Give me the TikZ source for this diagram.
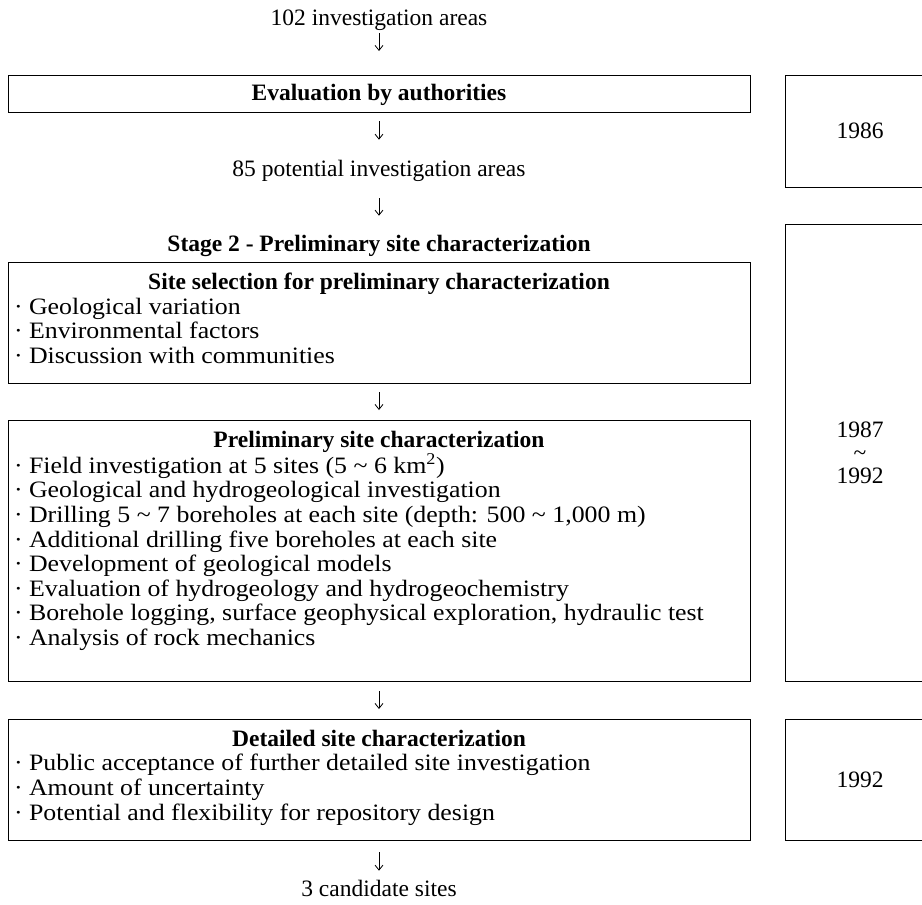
\documentclass[tikz,border=0pt]{standalone}
\usepackage{fontspec}
\setmainfont{Liberation Serif}
\newfontfamily\listfont{Liberation Serif}[FakeStretch=1.1]
\usetikzlibrary{arrows.meta}
\newcommand{\framedlist}[3]{\parbox[c][#1][t]{742pt}{\vspace*{11pt}{\centering\textbf{#2}\par}\raggedright\leftskip=6pt\relax\listfont #3\par}}
\begin{document}
\begin{tikzpicture}[x=1pt,y=-1pt,
  font=\fontsize{23.5}{24.6}\selectfont,
  frame/.style={draw, line width=0.9pt, inner sep=0pt, outer sep=0pt},
  txt/.style={inner sep=0pt, outer sep=0pt},
  openframe/.style={draw, line width=0.9pt},
  arr/.style={-{Straight Barb[length=5pt,width=8pt]}, line width=0.8pt}]
\useasboundingbox (0,0) rectangle (922,905);

% left column
\node[txt, anchor=base] (n102) at (379,25) {102 investigation areas};
\node[frame, minimum width=742pt, minimum height=37pt, text height=16pt, text depth=2pt] (eval) at (379,93.5) {\textbf{Evaluation by authorities}};
\node[txt, anchor=base] (n85) at (379,176) {85 potential investigation areas};
\node[txt, anchor=base] (stage) at (379,251) {\textbf{Stage 2 - Preliminary site characterization}};
\node[frame] (sel) at (379,322.5) {\framedlist{121pt}{Site selection for preliminary characterization}{%
  · Geological variation\\
  · Environmental factors\\
  · Discussion with communities}};
\node[frame] (pre) at (379,550.5) {\framedlist{261pt}{Preliminary site characterization}{%
  · Field investigation at 5 sites (5 \textasciitilde{} 6 km\textsuperscript{2})\\
  · Geological and hydrogeological investigation\\
  · Drilling 5 \textasciitilde{} 7 boreholes at each site (depth: 500 \textasciitilde{} 1,000 m)\\
  · Additional drilling five boreholes at each site\\
  · Development of geological models\\
  · Evaluation of hydrogeology and hydrogeochemistry\\
  · Borehole logging, surface geophysical exploration, hydraulic test\\
  · Analysis of rock mechanics}};
\node[frame] (det) at (379,779.5) {\framedlist{121pt}{Detailed site characterization}{%
  · Public acceptance of further detailed site investigation\\
  · Amount of uncertainty\\
  · Potential and flexibility for repository design}};
\node[txt, anchor=base] (n3) at (379,896) {3 candidate sites};

% right column (open at the right edge)
\draw[openframe] (922,75) -- (785,75) -- (785,187) -- (922,187);
\node[txt] (y1986) at (860,131) {1986};
\draw[openframe] (922,224) -- (785,224) -- (785,681) -- (922,681);
\node[txt, align=center, font=\fontsize{23.5}{23}\selectfont] (y8792) at (860,453) {1987\\\textasciitilde\\1992};
\draw[openframe] (922,719) -- (785,719) -- (785,840) -- (922,840);
\node[txt] (y1992) at (860,779.5) {1992};

% connectors
\draw[arr, shorten <=3pt, shorten >=24pt] (n102.south) -- (n102.south |- eval.north);
\draw[arr, shorten <=9pt, shorten >=20pt] (eval.south) -- (eval.south |- n85.north);
\draw[arr, shorten <=17pt, shorten >=19pt] (n85.south) -- (n85.south |- stage.north);
\draw[arr, shorten <=9pt, shorten >=10pt] (sel.south) -- (pre.north);
\draw[arr, shorten <=10pt, shorten >=10pt] (pre.south) -- (det.north);
\draw[arr, shorten <=12pt, shorten >=9pt] (det.south) -- (det.south |- n3.north);
\end{tikzpicture}
\end{document}
